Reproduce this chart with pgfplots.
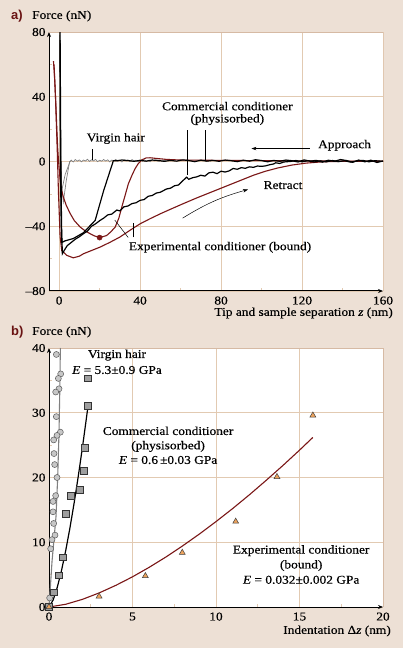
\documentclass[border=0pt]{standalone}
\usepackage{fontspec}
\setmainfont{Liberation Serif}[FakeStretch=1.12, FakeBold=0.35]
\newfontfamily\labfont{Liberation Sans}
\usepackage{pgfplots}
\pgfplotsset{compat=1.18}
\usetikzlibrary{arrows.meta}
\definecolor{bg}{RGB}{237,224,213}
\definecolor{gridtan}{RGB}{226,202,178}
\definecolor{bordertan}{RGB}{214,186,164}
\definecolor{dred}{RGB}{122,22,22}
\definecolor{lab}{RGB}{105,18,18}
\definecolor{triorange}{RGB}{236,162,92}
\newcommand{\tf}{\fontsize{12}{14}\selectfont}
\pgfplotsset{
 myaxis/.style={
  scale only axis, width=334bp, height=259bp,
  axis lines*=left,
  axis line style={line width=1pt,-{Stealth[length=5bp,width=4bp]}},
  axis background/.style={fill=white},
  grid=major, major grid style={gridtan, line width=0.7pt},
  major tick length=0pt, minor tick length=3bp,
  tick style={gridtan, line width=0.7pt}, tick align=inside,
  ticklabel style={font=\tf},
  /pgf/number format/assume math mode=true,
  xticklabel style={yshift=-2bp},
 }}
\begin{document}
\begin{tikzpicture}
\useasboundingbox (0,0) rectangle (403bp,648bp);
\fill[bg] (0,0) rectangle (403bp,648bp);
% ---------- panel a ----------
\begin{axis}[myaxis, at={(49bp,357bp)}, anchor=south west,
  xmin=-5, xmax=160, ymin=-80, ymax=80,
  xtick={0,40,80,120,160}, xticklabels={0,40,80,120,160},
  ytick={-80,-40,0,40,80}, yticklabels={–80,–40,0,40,80},
  minor xtick={20,60,100,140}, minor ytick={-60,-20,20,60}]
\draw[bordertan, line width=0.8pt] (rel axis cs:0,1) -- (rel axis cs:1,1) -- (rel axis cs:1,0);
% virgin hair (gray)
\addplot[gray, line width=0.7pt] coordinates {
 (0.3,78) (0.5,20) (0.8,-10) (1.3,-18) (3,-8) (5.4,0) (6,0.8) (7,-0.3) (8,1.2) (9,0.2) (10,1) (11,-0.2) (12,0.9)
 (13,0.3) (14,1.4) (15,0.1) (16,1) (17,0.4) (18,1.3) (19,-0.1) (20,0.8) (21,0.2) (22,1.2) (23,0.3) (24,1.0)
 (25,-0.2) (26,0.9) (27,0.4) (28,1.3) (29,0.1) (30,0.8) (31,-0.3) (32,1.1) (33,0.3) (34,0.9) (35,0) (36,1.2)
 (37,0.4) (38,0.8) (39,-0.2) (40,1.0) (41,0.3) (42,1.1) (43,0.2) (44,0.8) (45,-0.1) (46,1.0) (47,0.4) (48,0.9)
 (49,0.1) (50,0.7) (51,0.2) (52,0.8) (53,0.3)};
\addplot[gray, line width=0.7pt] coordinates {(0.6,10) (1.2,-15) (2.1,-25) (3.5,-12) (5.2,0) (6,0.5)};
% experimental conditioner (dark red)
\addplot[dred, line width=1.1pt] coordinates {
 (-2.8,62) (-2.4,55) (-2,46) (-1.6,35) (-1.1,19) (-0.7,8) (-0.3,0.6) (0.5,-11.7) (1.2,-17.5) (2.1,-22)
 (3.5,-27) (5.4,-32) (7.5,-36.5) (10.4,-40.5) (13,-43) (15.3,-44.6) (17.5,-46) (19.4,-46.7) (21.5,-46.5)
 (23.5,-45.7) (25.5,-43.5) (27.7,-40.5) (29.5,-35) (31,-28) (32.7,-20.5) (34.2,-13.8) (36,-8.5) (37.5,-4.5)
 (39,-1.5) (40.8,1) (43,2.2) (45,2.3) (48,1.9) (53,1.3) (60,0.9) (80,0.7) (100,0.5) (130,0.3) (160,0.2)};
\addplot[dred, line width=1.1pt] coordinates {
 (-2.5,60) (-1.8,40) (-1,10) (-0.3,-20) (0.5,-46.7) (1.3,-55) (3.8,-58) (7,-59.5) (10,-58.5) (12,-57)
 (16,-55) (20.2,-52.9) (25,-50) (30,-46.7) (35,-42.5) (40,-38.5) (45,-35.3) (50,-32.3) (55,-29.5) (61.4,-26)
 (68,-22.5) (76,-18.5) (83,-15) (90,-11.5) (96,-8.5) (102,-6) (108,-4) (115,-2.2) (122,-1) (130,-0.2)
 (140,0.1) (160,0.1)};
\addplot[dred, only marks, mark=*, mark size=2.6bp] coordinates {(20,-47)};
% commercial conditioner (black)
\addplot[black, line width=1.2pt] coordinates {
 (160,0.3) (157,-0.6) (154,0.8) (151,-0.2) (148,0.9) (145,-0.5) (142,0.6) (139,1.2) (136,0.1) (133,0.8)
 (130,-0.4) (127,0.7) (124,0.2) (121,1.0) (118,-0.3) (115,0.5) (112,0.9) (109,0.1) (106,0.7) (103,-0.2)
 (100,0.6) (97,1.1) (94,0.2) (91,0.8) (88,-0.1) (85,0.5) (82,0.9) (79,0.1) (76,0.7) (73,0.2) (70,0.8)
 (67,-0.1) (64,0.6) (61,1.0) (58,0.2) (55,0.7) (52,0.1) (49,0.6) (46,0.9) (43,0.2) (40,0.7) (37,0.1)
 (34,0.6) (31,0.9) (28,0.4) (26.8,0.5) (22,-18) (17.8,-36.4) (12,-44) (7,-47.6) (3,-49) (1.3,-50)
 (0.9,-30) (0.6,20) (0.4,80)};
\addplot[black, line width=1.2pt] coordinates {
 (0.5,75) (0.8,10) (1.2,-40) (1.6,-57) (2.5,-55) (4,-52) (6,-50) (8,-48) (10,-46.5) (12,-44.6) (14,-43)
 (16,-40) (18,-38.5) (20.2,-36.4) (22,-35) (24,-33) (26,-32.5) (28.5,-30) (30,-30.5) (32,-28) (34,-27.5)
 (36,-26) (38,-25.5) (40,-24) (42,-23.5) (44,-21.5) (46,-21) (48,-19.5) (50,-19) (53,-17) (55,-16.5)
 (57,-15) (59,-14.5) (61,-12) (63,-9.7) (64,-11) (66,-10) (68,-9.5) (70,-8.5) (72,-9) (74,-7) (76,-6.6)
 (78,-7.5) (80,-6) (82,-6.5) (84,-5.8) (86,-4.3) (88,-4.8) (90,-3.8) (92,-4.2) (94,-3.3) (96,-3.6)
 (98,-2.8) (100,-3) (102,-2.7) (104,-2.0) (106,-1.5) (107,-0.8) (109,-1.2) (111,-0.3) (114,0) (117,0.6)
 (120,-0.2) (123,0.5) (126,-0.3) (129,0.4) (132,-0.2) (135,0.6) (138,-0.1) (141,0.5) (144,-0.4) (147,0.3)
 (150,0.7) (153,-0.2) (156,0.5) (160,0.1)};
% annotations
\draw[black, line width=0.5pt] (axis cs:16.3,7.5) -- (axis cs:16.3,1);
\draw[black, line width=0.7pt] (axis cs:63.2,19.3) -- (axis cs:63.2,-8.4);
\draw[black, line width=0.7pt] (axis cs:72.3,19.3) -- (axis cs:72.3,0);
\draw[black, line width=0.5pt] (axis cs:34.1,-46.9) -- (axis cs:27.5,-36.2);
\draw[black, line width=0.5pt] (axis cs:36.5,-46.9) -- (axis cs:36.5,-37.9);
\draw[black, line width=0.6pt, -{Stealth[length=5bp,width=3.5bp]}] (axis cs:123.8,8) -- (axis cs:95,8);
\draw[black, line width=0.5pt, -{Stealth[length=5bp,width=3.5bp]}] (axis cs:61,-35) to[bend left=8] (axis cs:93.3,-17.3);
\node[font=\tf] at (axis cs:28,14.2) {Virgin hair};
\node[font=\tf] at (axis cs:83.1,34.2) {Commercial conditioner};
\node[font=\tf] at (axis cs:83.1,25.9) {(physisorbed)};
\node[font=\tf] at (axis cs:141,10) {Approach};
\node[font=\tf] at (axis cs:110.6,-14.6) {Retract};
\node[font=\tf] at (axis cs:79.5,-53) {Experimental conditioner (bound)};
\end{axis}
% ---------- panel b ----------
\begin{axis}[myaxis, at={(49bp,41bp)}, anchor=south west, clip=false,
  xmin=0, xmax=20, ymin=0, ymax=40,
  xtick={0,5,10,15,20}, xticklabels={0,5,10,15,20},
  ytick={0,10,20,30,40}, yticklabels={0,10,20,30,40},
  minor xtick={2.5,7.5,12.5,17.5}, minor ytick={5,15,25,35}]
\draw[bordertan, line width=0.8pt] (rel axis cs:0,1) -- (rel axis cs:1,1) -- (rel axis cs:1,0);
\addplot[gray, line width=1.1pt] coordinates {
 (0,0) (0.08,3) (0.18,7) (0.3,10.5) (0.42,14) (0.52,20) (0.6,27) (0.65,34) (0.68,40)};
\addplot[black, line width=1.2pt] coordinates {
 (0,0) (0.25,1.09) (0.5,3.08) (0.75,5.65) (1.0,8.7) (1.25,12.16) (1.5,15.98) (1.75,20.14) (2.0,24.6)
 (2.2,28.4) (2.34,31.1)};
\addplot[dred, line width=1.1pt] coordinates {
 (0,0) (1,0.42) (2,1.18) (3,2.17) (4,3.34) (5,4.66) (6,6.13) (7,7.72) (8,9.44) (9,11.26) (10,13.19)
 (11,15.21) (12,17.33) (13,19.55) (14,21.84) (15,24.22) (15.8,26.19)};
\addplot[only marks, mark=*, mark size=3bp, mark options={fill=black!22, draw=black!65, line width=0.5pt}] coordinates {
 (0.44,39.0) (0.70,36.0) (0.56,35.3) (0.60,33.7) (0.40,33.2) (0.44,29.4) (0.68,27.0) (0.48,26.5)
 (0.28,25.8) (0.30,23.7) (0.34,22.0) (0.48,20.0) (0.40,17.2) (0.24,16.3) (0.24,14.7) (0.28,12.9)
 (0.36,11.1) (0.18,10.4) (0.10,9.0) (0.04,1.4) (0,0)};
\addplot[only marks, mark=square*, mark size=3.3bp, mark options={fill=black!38, draw=black!80, line width=0.6pt}] coordinates {
 (2.34,35.3) (2.34,31.1) (2.14,24.6) (2.08,21.0) (1.86,18.1) (1.30,17.2) (1.0,14.4) (0.84,7.7)
 (0.6,4.9) (0.30,2.3) (0,0)};
\addplot[only marks, mark=triangle*, mark size=3.4bp, mark options={fill=triorange, draw=black!75, line width=0.5pt}] coordinates {
 (0,0) (3.0,1.65) (5.77,4.8) (7.98,8.4) (11.18,13.2) (13.65,20.1) (15.8,29.6)};
\node[font=\tf] at (axis cs:4.07,38.9) {Virgin hair};
\node[font=\tf] at (axis cs:4.07,36.6) {\textit{E} = 5.3±0.9 GPa};
\node[font=\tf] at (axis cs:7.13,27.2) {Commercial conditioner};
\node[font=\tf] at (axis cs:7.13,24.8) {(physisorbed)};
\node[font=\tf] at (axis cs:7.13,22.7) {\textit{E} = 0.6\,±0.03 GPa};
\node[font=\tf] at (axis cs:15.1,8.7) {Experimental conditioner};
\node[font=\tf] at (axis cs:15.1,6.4) {(bound)};
\node[font=\tf] at (axis cs:15.1,4.2) {\textit{E} = 0.032±0.002 GPa};
\end{axis}
% ---------- outer labels ----------
\node[anchor=west, font=\labfont\bfseries\fontsize{13}{15}\selectfont, text=lab, inner sep=0] at (11bp,632bp) {a)};
\node[anchor=west, font=\tf, inner sep=0] at (32bp,632bp) {Force (nN)};
\node[anchor=east, font=\tf, inner sep=0] at (393bp,335bp) {Tip and sample separation \textit{z} (nm)};
\node[anchor=west, font=\labfont\bfseries\fontsize{13}{15}\selectfont, text=lab, inner sep=0] at (11bp,316bp) {b)};
\node[anchor=west, font=\tf, inner sep=0] at (32bp,316bp) {Force (nN)};
\node[anchor=east, font=\tf, inner sep=0] at (391bp,17bp) {Indentation Δ\textit{z} (nm)};
\end{tikzpicture}
\end{document}
